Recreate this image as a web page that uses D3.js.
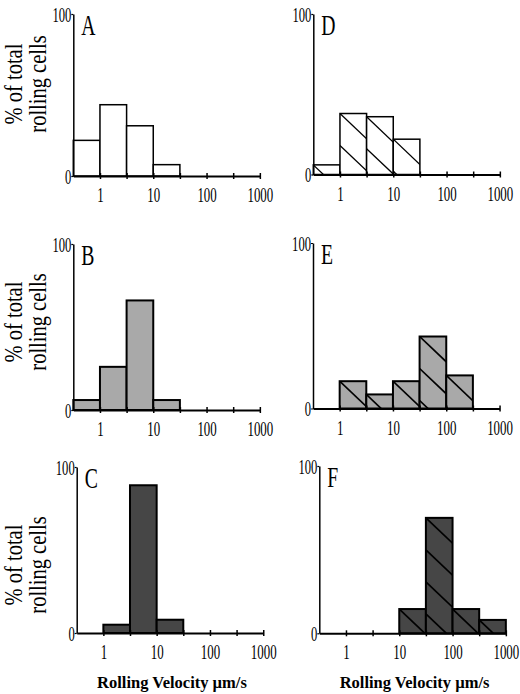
<!DOCTYPE html>
<html>
<head>
<meta charset="utf-8">
<script src="https://cdn.jsdelivr.net/npm/d3@7"></script>
<style>
  html, body { margin: 0; padding: 0; background: #fff; }
  svg { display: block; }
</style>
</head>
<body>
<div id="chart"></div>
<script>
// ---------- data ----------
const binEdges = [0.316, 1, 3.16, 10, 31.6, 100, 316, 1000];
const decadeTicks = [1, 10, 100, 1000];
const minorTicks = [3.16, 31.6, 316];
const yTicks = [0, 100];
const panelNames = ["A", "B", "C", "D", "E", "F"];
const valuesA = [22, 44, 31, 7, 0, 0, 0];
const valuesB = [6, 26, 66, 6, 0, 0, 0];
const valuesC = [0, 5, 89, 8, 0, 0, 0];
const valuesD = [6, 38, 36, 22, 0, 0, 0];
const valuesE = [0, 16.5, 8.5, 16.5, 43.5, 20, 0];
const valuesF = [0, 0, 0, 14.5, 69, 14.5, 8];
const yLabelLines = ["% of total", "rolling cells"];
const xLabel = "Rolling Velocity \u00b5m/s";

// ---------- layout / style ----------
const W = 520, H = 694;
const DEC = 53.3;
const fills = { light: "#ffffff", mid: "#a9a9a9", dark: "#464646" };
const panels = [
  { name: panelNames[0], values: valuesA, x0: 73.3, top: 14, base: 176, fill: fills.light, hatch: false, sw: 1.5, ylab: 84 },
  { name: panelNames[1], values: valuesB, x0: 73.3, top: 244, base: 410, fill: fills.mid, hatch: false, sw: 2, ylab: 322 },
  { name: panelNames[2], values: valuesC, x0: 76.7, top: 467, base: 633, fill: fills.dark, hatch: false, sw: 2, ylab: 565, xlab: true },
  { name: panelNames[3], values: valuesD, x0: 313.3, top: 14, base: 174.5, fill: fills.light, hatch: true, sw: 1.5 },
  { name: panelNames[4], values: valuesE, x0: 313, top: 243, base: 408.5, fill: fills.mid, hatch: true, sw: 2 },
  { name: panelNames[5], values: valuesF, x0: 319.3, top: 466, base: 633.3, fill: fills.dark, hatch: true, sw: 2, xlab: true }
];
const serif = "'Liberation Serif', 'Times New Roman', serif";

const svg = d3.select("#chart").append("svg")
  .attr("width", W).attr("height", H)
  .attr("viewBox", `0 0 ${W} ${H}`);
const defs = svg.append("defs");

panels.forEach((p, pi) => {
  const x = d3.scaleLog()
    .domain([binEdges[0], binEdges[binEdges.length - 1]])
    .range([p.x0, p.x0 + DEC * 3.5]);
  const y = d3.scaleLinear().domain([0, 100]).range([p.base, p.top]);
  const g = svg.append("g");

  const bins = p.values.map((v, i) => ({ v, lo: binEdges[i], hi: binEdges[i + 1], i }))
    .filter(d => d.v > 0);

  // bars
  bins.forEach(d => {
    const bx = x(d.lo), bw = x(d.hi) - x(d.lo);
    const by = y(d.v), bh = y(0) - y(d.v);
    g.append("rect")
      .attr("x", bx).attr("y", by).attr("width", bw).attr("height", bh)
      .attr("fill", p.fill);
    if (p.hatch) {
      const cid = `clip-${pi}-${d.i}`;
      defs.append("clipPath").attr("id", cid)
        .append("rect").attr("x", bx).attr("y", by).attr("width", bw).attr("height", bh);
      const hg = g.append("g").attr("clip-path", `url(#${cid})`);
      const spacing = bw * 1.2;
      const slope = 0.95;
      for (let yy = by; yy < y(0); yy += spacing) {
        hg.append("line")
          .attr("x1", bx).attr("y1", yy)
          .attr("x2", bx + bw * 3).attr("y2", yy + bw * 3 * slope)
          .attr("stroke", "#000").attr("stroke-width", p.sw * 0.85);
      }
    }
    g.append("rect")
      .attr("x", bx).attr("y", by).attr("width", bw).attr("height", bh)
      .attr("fill", "none").attr("stroke", "#000").attr("stroke-width", p.sw);
  });

  // x axis
  const xAxis = d3.axisBottom(x)
    .tickValues(decadeTicks.concat(minorTicks))
    .tickSize(3).tickSizeOuter(0)
    .tickFormat(v => decadeTicks.includes(v) ? String(v) : "");
  const xg = g.append("g").attr("transform", `translate(0,${p.base})`).call(xAxis);
  xg.select(".domain").attr("stroke", "#000").attr("stroke-width", 2);
  xg.selectAll(".tick line").attr("y1", -3).attr("y2", 3).attr("stroke-width", 1.5);
  xg.selectAll(".tick text")
    .attr("y", null).attr("dy", null)
    .attr("transform", "translate(0,26) scale(0.6,1)")
    .attr("font-family", serif).attr("font-size", 21.5).attr("fill", "#000");

  // y axis
  const yAxis = d3.axisLeft(y).tickValues(yTicks).tickSize(2).tickSizeOuter(0)
    .tickFormat(d3.format("d"));
  const yg = g.append("g").attr("transform", `translate(${p.x0},0)`).call(yAxis);
  yg.select(".domain").attr("stroke", "#000").attr("stroke-width", 1.5);
  yg.selectAll(".tick line").attr("stroke-width", 1.2);
  yg.selectAll(".tick text")
    .attr("x", null).attr("dy", null)
    .attr("transform", "translate(-2,7) scale(0.6,1)")
    .attr("font-family", serif).attr("font-size", 21).attr("fill", "#000");

  // panel letter
  g.append("text")
    .attr("transform", `translate(${p.x0 + 8},${p.top + 21}) scale(0.68,1)`)
    .attr("font-family", serif).attr("font-size", 29).attr("fill", "#000")
    .text(p.name);

  // y label
  if (p.ylab !== undefined) {
    [22, 46].forEach((lx, li) => {
      g.append("text")
        .attr("transform", `translate(${lx},${p.ylab}) rotate(-90) scale(1,1.25)`)
        .attr("text-anchor", "middle")
        .attr("font-family", serif).attr("font-size", 20.5).attr("fill", "#000")
        .text(yLabelLines[li]);
    });
  }

  // x label
  if (p.xlab) {
    g.append("text")
      .attr("x", x(Math.sqrt(binEdges[0] * binEdges[binEdges.length - 1])) + 2)
      .attr("y", 688)
      .attr("text-anchor", "middle")
      .attr("font-family", serif).attr("font-size", 16.5).attr("font-weight", "bold")
      .attr("fill", "#000")
      .text(xLabel);
  }
});
</script>
</body>
</html>
